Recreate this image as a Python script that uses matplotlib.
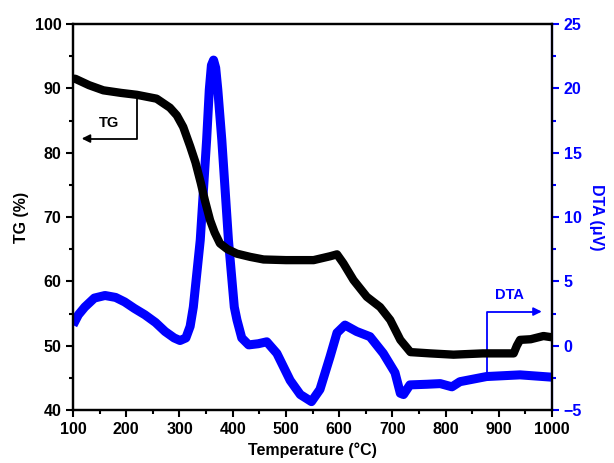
import numpy as np
import matplotlib.pyplot as plt
from matplotlib.ticker import MultipleLocator

#%% data
tg_temp = [100, 104, 130, 157, 190, 220, 257, 282, 295, 307, 320, 330, 340, 348, 357.5,
           366, 376, 390, 408, 433, 458, 500, 552, 583, 596, 608, 627, 652, 677, 696,
           715, 734, 771, 815, 870, 928, 934, 940, 960, 984, 1000]
tg_val = [91.5, 91.5, 90.5, 89.7, 89.3, 89.0, 88.4, 87.0, 85.8, 84.0, 81.0, 78.5, 75.3, 72.5, 69.5,
          67.6, 65.9, 65.0, 64.3, 63.8, 63.4, 63.3, 63.3, 63.9, 64.2, 62.8, 60.2, 57.6, 56.0, 54.0,
          50.9, 49.0, 48.8, 48.6, 48.8, 48.8, 50.0, 50.9, 51.0, 51.5, 51.3]

dta_temp = [100, 110, 122, 140, 160, 180, 197, 215, 235, 255, 273, 290, 301, 312, 320, 326,
            339, 351, 356, 360, 364, 368, 372, 379.5, 392, 403, 408, 417, 430, 448, 464, 483, 508,
            527, 548, 564, 583, 596, 611, 633, 658, 683, 705, 715, 721, 733, 765, 790,
            812, 827, 877, 940, 1000]
dta_val = [1.6, 2.4, 3.0, 3.7, 3.9, 3.75, 3.4, 2.9, 2.4, 1.8, 1.1, 0.6, 0.4, 0.6, 1.5, 3.0,
           8.2, 16.0, 19.9, 21.8, 22.2, 21.6, 19.9, 16.0, 8.2, 3.0, 2.0, 0.6, 0.06, 0.15, 0.3, -0.6, -2.7,
           -3.8, -4.35, -3.4, -0.85, 1.0, 1.6, 1.1, 0.7, -0.6, -2.1, -3.7, -3.8, -3.05, -3.0, -2.95,
           -3.2, -2.8, -2.4, -2.27, -2.45]

#%% plot features
plt.rcParams['font.family'] = ['Liberation Sans', 'DejaVu Sans']
plt.rcParams['font.weight'] = 'bold'
font_size = 11.5
blue = '#0000ff'

fig = plt.figure(figsize=(6.14, 4.63), dpi=100)
ax = fig.add_axes([0.119, 0.1145, 0.78, 0.8335])
ax2 = ax.twinx()

ax.plot(tg_temp, tg_val, color='black', linewidth=6, solid_capstyle='butt',
        solid_joinstyle='round', zorder=3)
ax2.plot(dta_temp, dta_val, color=blue, linewidth=6.5, solid_capstyle='butt',
         solid_joinstyle='round')

ax.set_xlim(100, 1000)
ax.set_ylim(40, 100)
ax2.set_ylim(-5, 25)
ax.set_zorder(ax2.get_zorder() + 1)
ax.patch.set_visible(False)

ax.xaxis.set_major_locator(MultipleLocator(100))
ax.xaxis.set_minor_locator(MultipleLocator(50))
ax.yaxis.set_major_locator(MultipleLocator(10))
ax.yaxis.set_minor_locator(MultipleLocator(5))
ax2.yaxis.set_major_locator(MultipleLocator(5))
ax2.yaxis.set_minor_locator(MultipleLocator(2.5))

for a in (ax, ax2):
    for s in a.spines.values():
        s.set_linewidth(1.6)
ax2.spines['right'].set_color(blue)
ax.tick_params(which='major', direction='out', length=5, width=1.5, labelsize=font_size)
ax.tick_params(which='minor', direction='out', length=3, width=1.5)
ax2.tick_params(which='major', direction='out', length=5, width=1.5, colors=blue, labelsize=font_size)
ax2.tick_params(which='minor', direction='out', length=3, width=1.5, colors=blue)

ax.set_xlabel('Temperature (°C)', fontsize=font_size, fontweight='bold')
ax.set_ylabel('TG (%)', fontsize=font_size, fontweight='bold')
ax2.set_ylabel('DTA (μV)', fontsize=font_size, fontweight='bold', color=blue,
               rotation=270, labelpad=16)

# TG arrow
ax.plot([219.6, 219.6, 125], [88.5, 82.2, 82.2], color='black', linewidth=1.3, zorder=4)
ax.annotate('', xy=(111, 82.2), xytext=(130, 82.2),
            arrowprops=dict(arrowstyle='-|>', color='black', lw=1.3, mutation_scale=12))
ax.text(168, 84.6, 'TG', fontsize=font_size - 1, fontweight='bold', ha='center', va='center')

# DTA arrow
ax2.plot([877.6, 877.6, 970], [-2.4, 2.65, 2.65], color=blue, linewidth=1.3)
ax2.annotate('', xy=(986, 2.65), xytext=(965, 2.65),
             arrowprops=dict(arrowstyle='-|>', color=blue, lw=1.3, mutation_scale=12))
ax2.text(921, 3.9, 'DTA', fontsize=font_size - 1, fontweight='bold', color=blue,
         ha='center', va='center')

plt.savefig('out.png', dpi=100)
